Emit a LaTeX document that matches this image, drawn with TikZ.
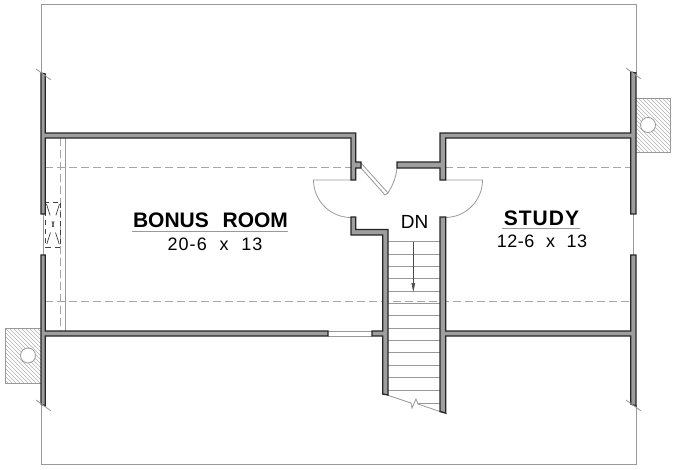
\documentclass[tikz,border=0pt]{standalone}
\usepackage{fontspec}
\newfontfamily\namefont{Liberation Sans}
\newfontfamily\sizefont[WordSpace=2.1,LetterSpace=6]{Liberation Sans}
\newfontfamily\downfont{Liberation Sans}
\usetikzlibrary{arrows.meta}
\tikzset{
  wall/.style={draw=black!85, fill=black!38, line width=1.3pt, line join=miter},
  thinline/.style={draw=black!40, line width=0.8pt},
  hidden/.style={draw=black!35, line width=1pt, dash pattern=on 8pt off 4pt},
  skylight/.style={draw=black!75, line width=0.7pt, dash pattern=on 5pt off 4pt},
  skycross/.style={draw=black!75, line width=0.7pt, dash pattern=on 12pt off 6pt on 6pt off 6pt on 12pt off 6pt},
  hatchline/.style={draw=black!30, line width=0.5pt},
  flue/.style={circle, draw=black!40, fill=white, line width=0.8pt, minimum size=15pt, inner sep=0pt},
  roomname/.style={font=\namefont\bfseries\fontsize{21}{21}\selectfont, anchor=base, text=black},
  roomsize/.style={font=\sizefont\fontsize{18}{18}\selectfont, anchor=base, text=black}
}
\begin{document}
\begin{tikzpicture}[x=1pt,y=-1pt]
\useasboundingbox (0,0) rectangle (675,469);
\fill[white] (0,0) rectangle (675,469);

% outline of the floor below
\draw[thinline] (41,73) -- (41,4) -- (636,4) -- (636,73);
\draw[thinline] (41,405) -- (41,464) -- (636,464) -- (636,405);
\draw[thinline] (43.5,214) -- (43.5,255);
\draw[thinline] (633,214) -- (633,255);

% draw the dashed lines
\draw[hidden] (45,167) -- (351,167);
\draw[hidden] (445,167) -- (631,167);
\draw[hidden] (45,301) -- (631,301);
\draw[hidden] (60.5,138) -- (60.5,331);
\draw[thinline] (65,138) -- (65,331);

% skylight
\draw[skylight] (45.5,202) rectangle (60.5,247);
\draw[skycross] (46.5,204) -- (59.5,245);
\draw[skycross] (59.5,204) -- (46.5,245);

% chimneys
\begin{scope}
\clip (5,328) rectangle (41,383);
\foreach \k in {0,4,...,96}
\draw[hatchline] (\k,383) -- +(-60,-60);
\end{scope}
\draw[thinline] (41,328) -- (5,328) -- (5,383) -- (41,383);
\node[flue] (flueleft) at (28,355.5) {};

\begin{scope}
\clip (636,98) rectangle (670.5,152);
\foreach \k in {636,640,...,730}
\draw[hatchline] (\k,152) -- +(-60,-60);
\end{scope}
\draw[thinline] (636,98) -- (670.5,98) -- (670.5,152) -- (636,152);
\node[flue] (flueright) at (648,125) {};

% door swings
\draw[thinline] (351,180) -- (313.5,180) arc[start angle=180, end angle=90, x radius=37.5, y radius=37.5];
\draw[thinline] (445,180) -- (482.5,180) arc[start angle=0, end angle=90, x radius=37.5, y radius=37.5];
\draw[thinline] (361,163) -- (388,193) -- (385,195) -- (361,168);
\draw[thinline] (387,194) .. controls (393,186) and (396,177) .. (397,168);

% window
\draw[thinline] (328,331) -- (372,331);
\draw[thinline] (328,336) -- (372,336);

% stairs
\foreach \y in {241.7,254,266.4,278.7,291.1,303.4,315.8,328.1,340.5,352.8,365.2,377.5,389.9}
\draw[thinline] (388,\y) -- (440,\y);
\draw[thinline] (418,403) -- (440,403);
\draw[thinline] (387,395) -- (411,403) -- (412,408) -- (416,399) -- (418,404) -- (447,414);
\draw[draw=black!70, line width=0.6pt, -{Triangle[length=9pt,width=3.5pt]}] (413.3,241.7) -- (413.3,292);

% walls
\draw[wall] (41,73) -- (45.3,74) -- (45.3,133) -- (355.7,133) -- (355.7,162) -- (361,162) -- (361,168)
  -- (355.7,168) -- (355.7,180) -- (351,180) -- (351,138) -- (45.3,138) -- (45.3,214) -- (41,214) -- cycle;
\draw[wall] (41,255) -- (45.3,255) -- (45.3,331) -- (328,331) -- (328,336) -- (45.3,336) -- (45.3,406)
  -- (41,404) -- cycle;
\draw[wall] (351,217) -- (355.7,217) -- (355.7,229.5) -- (388,229.5) -- (388,395) -- (382.7,394) -- (382.7,336)
  -- (372,336) -- (372,331) -- (382.7,331) -- (382.7,235) -- (351,235) -- cycle;
\draw[wall] (440,217) -- (445.7,217) -- (445.7,331) -- (630.7,331) -- (630.7,255) -- (636,255) -- (636,406)
  -- (630.7,404) -- (630.7,336) -- (445.7,336) -- (445.7,413) -- (440,411.5) -- cycle;
\draw[wall] (397,162) -- (440,162) -- (440,133) -- (630.7,133) -- (630.7,72) -- (636,73) -- (636,214)
  -- (630.7,214) -- (630.7,138) -- (445.7,138) -- (445.7,180) -- (440,180) -- (440,168) -- (397,168) -- cycle;

% wall end ticks
\foreach \x/\y in {36/69,626/68,36/400,626/400}
\draw[thinline] (\x,\y) -- +(14.7,10.7);

% labels
\node[roomname] (bonus) at (210.5,227) {BONUS\hspace{8pt} ROOM};
\draw[thinline] (132,231) -- (288,231);
\node[roomsize] (bonussize) at (215,250) {20-6 x 13};
\node[roomname] (study) at (541.5,225) {\addfontfeature{LetterSpace=5}STUDY};
\draw[thinline] (502,228.3) -- (580,228.3);
\node[roomsize] (studysize) at (542,247) {\addfontfeature{LetterSpace=3}12-6 x 13};
\node[font=\downfont\fontsize{19}{19}\selectfont, anchor=base] (down) at (414.5,228) {DN};
\end{tikzpicture}
\end{document}
